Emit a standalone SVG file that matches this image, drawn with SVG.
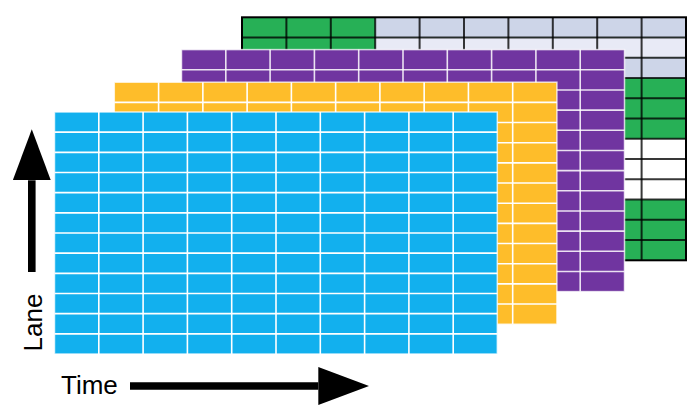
<svg xmlns="http://www.w3.org/2000/svg" width="695" height="411" viewBox="0 0 695 411">
<style>
.gl{fill:none;stroke:#fff;stroke-width:1.6}
.bd{fill:none;stroke:#fff;stroke-opacity:0.75;stroke-width:1.5}
.bgl{fill:none;stroke:#000;stroke-opacity:0.78;stroke-width:2}
.lbl{font-family:"Liberation Sans",Arial,sans-serif;font-size:26px;fill:#000}
.arr{stroke:#000;stroke-width:7.6;fill:none}
</style>
<defs>
<marker id="head" markerUnits="userSpaceOnUse" markerWidth="51" markerHeight="38" viewBox="0 0 51 38" refX="0" refY="19" orient="auto">
<path d="M0,0 L51,19 L0,38 Z" fill="#000"/>
</marker>
</defs>
<g id="layer-back">
<rect x="242" y="17.3" width="444" height="243" fill="#27B056"/>
<rect x="375.2" y="17.3" width="310.8" height="20.25" fill="#CDD5E8"/>
<rect x="375.2" y="37.55" width="310.8" height="20.25" fill="#E8EAF6"/>
<rect x="375.2" y="57.8" width="310.8" height="20.25" fill="#CDD5E8"/>
<rect x="242" y="138.8" width="444" height="60.75" fill="#FFFFFF"/>
<path class="bgl" d="M286.4,17.3 v243 m44.4,-243 v243 m44.4,-243 v243 m44.4,-243 v243 m44.4,-243 v243 m44.4,-243 v243 m44.4,-243 v243 m44.4,-243 v243 m44.4,-243 v243"/>
<path class="bgl" d="M242,37.55 h444 m-444,20.25 h444 m-444,20.25 h444 m-444,20.25 h444 m-444,20.25 h444 m-444,20.25 h444 m-444,20.25 h444 m-444,20.25 h444 m-444,20.25 h444 m-444,20.25 h444 m-444,20.25 h444"/>
<rect x="242" y="17.3" width="444" height="243" fill="none" stroke="#000" stroke-width="2"/>
</g>
<g id="layer-purple">
<rect x="181.5" y="49.6" width="443" height="242" fill="#7035A0"/>
<path class="gl" stroke-opacity="0.85" d="M225.8,49.6 v242 m44.3,-242 v242 m44.3,-242 v242 m44.3,-242 v242 m44.3,-242 v242 m44.3,-242 v242 m44.3,-242 v242 m44.3,-242 v242 m44.3,-242 v242"/>
<path class="gl" stroke-opacity="0.85" d="M181.5,69.77 h443 m-443,20.167 h443 m-443,20.167 h443 m-443,20.167 h443 m-443,20.167 h443 m-443,20.167 h443 m-443,20.167 h443 m-443,20.167 h443 m-443,20.167 h443 m-443,20.167 h443 m-443,20.167 h443"/>
<rect class="bd" x="181.5" y="49.6" width="443" height="242"/>
</g>
<g id="layer-yellow">
<rect x="114.3" y="82.2" width="442.6" height="242" fill="#FEBD2A"/>
<path class="gl" d="M158.6,82.2 v242 m44.26,-242 v242 m44.26,-242 v242 m44.26,-242 v242 m44.26,-242 v242 m44.26,-242 v242 m44.26,-242 v242 m44.26,-242 v242 m44.26,-242 v242"/>
<path class="gl" d="M114.3,102.37 h442.6 m-442.6,20.167 h442.6 m-442.6,20.167 h442.6 m-442.6,20.167 h442.6 m-442.6,20.167 h442.6 m-442.6,20.167 h442.6 m-442.6,20.167 h442.6 m-442.6,20.167 h442.6 m-442.6,20.167 h442.6 m-442.6,20.167 h442.6 m-442.6,20.167 h442.6"/>
<rect class="bd" x="114.3" y="82.2" width="442.6" height="242"/>
</g>
<g id="layer-blue">
<rect x="54.5" y="112" width="442.8" height="242" fill="#12B0EE"/>
<path class="gl" d="M98.8,112 v242 m44.3,-242 v242 m44.3,-242 v242 m44.3,-242 v242 m44.3,-242 v242 m44.3,-242 v242 m44.3,-242 v242 m44.3,-242 v242 m44.3,-242 v242"/>
<path class="gl" d="M54.5,132.17 h442.8 m-442.8,20.167 h442.8 m-442.8,20.167 h442.8 m-442.8,20.167 h442.8 m-442.8,20.167 h442.8 m-442.8,20.167 h442.8 m-442.8,20.167 h442.8 m-442.8,20.167 h442.8 m-442.8,20.167 h442.8 m-442.8,20.167 h442.8 m-442.8,20.167 h442.8"/>
<rect class="bd" x="54.5" y="112" width="442.8" height="242"/>
</g>
<g id="connectors">
<line class="arr" x1="31.8" y1="272" x2="31.8" y2="180.3" marker-end="url(#head)"/>
<line class="arr" x1="130" y1="386" x2="318.3" y2="386" marker-end="url(#head)"/>
</g>
<g id="labels">
<text class="lbl" transform="translate(41.7,351.5) rotate(-90)">Lane</text>
<text class="lbl" x="61" y="394.3">Time</text>
</g>
</svg>
